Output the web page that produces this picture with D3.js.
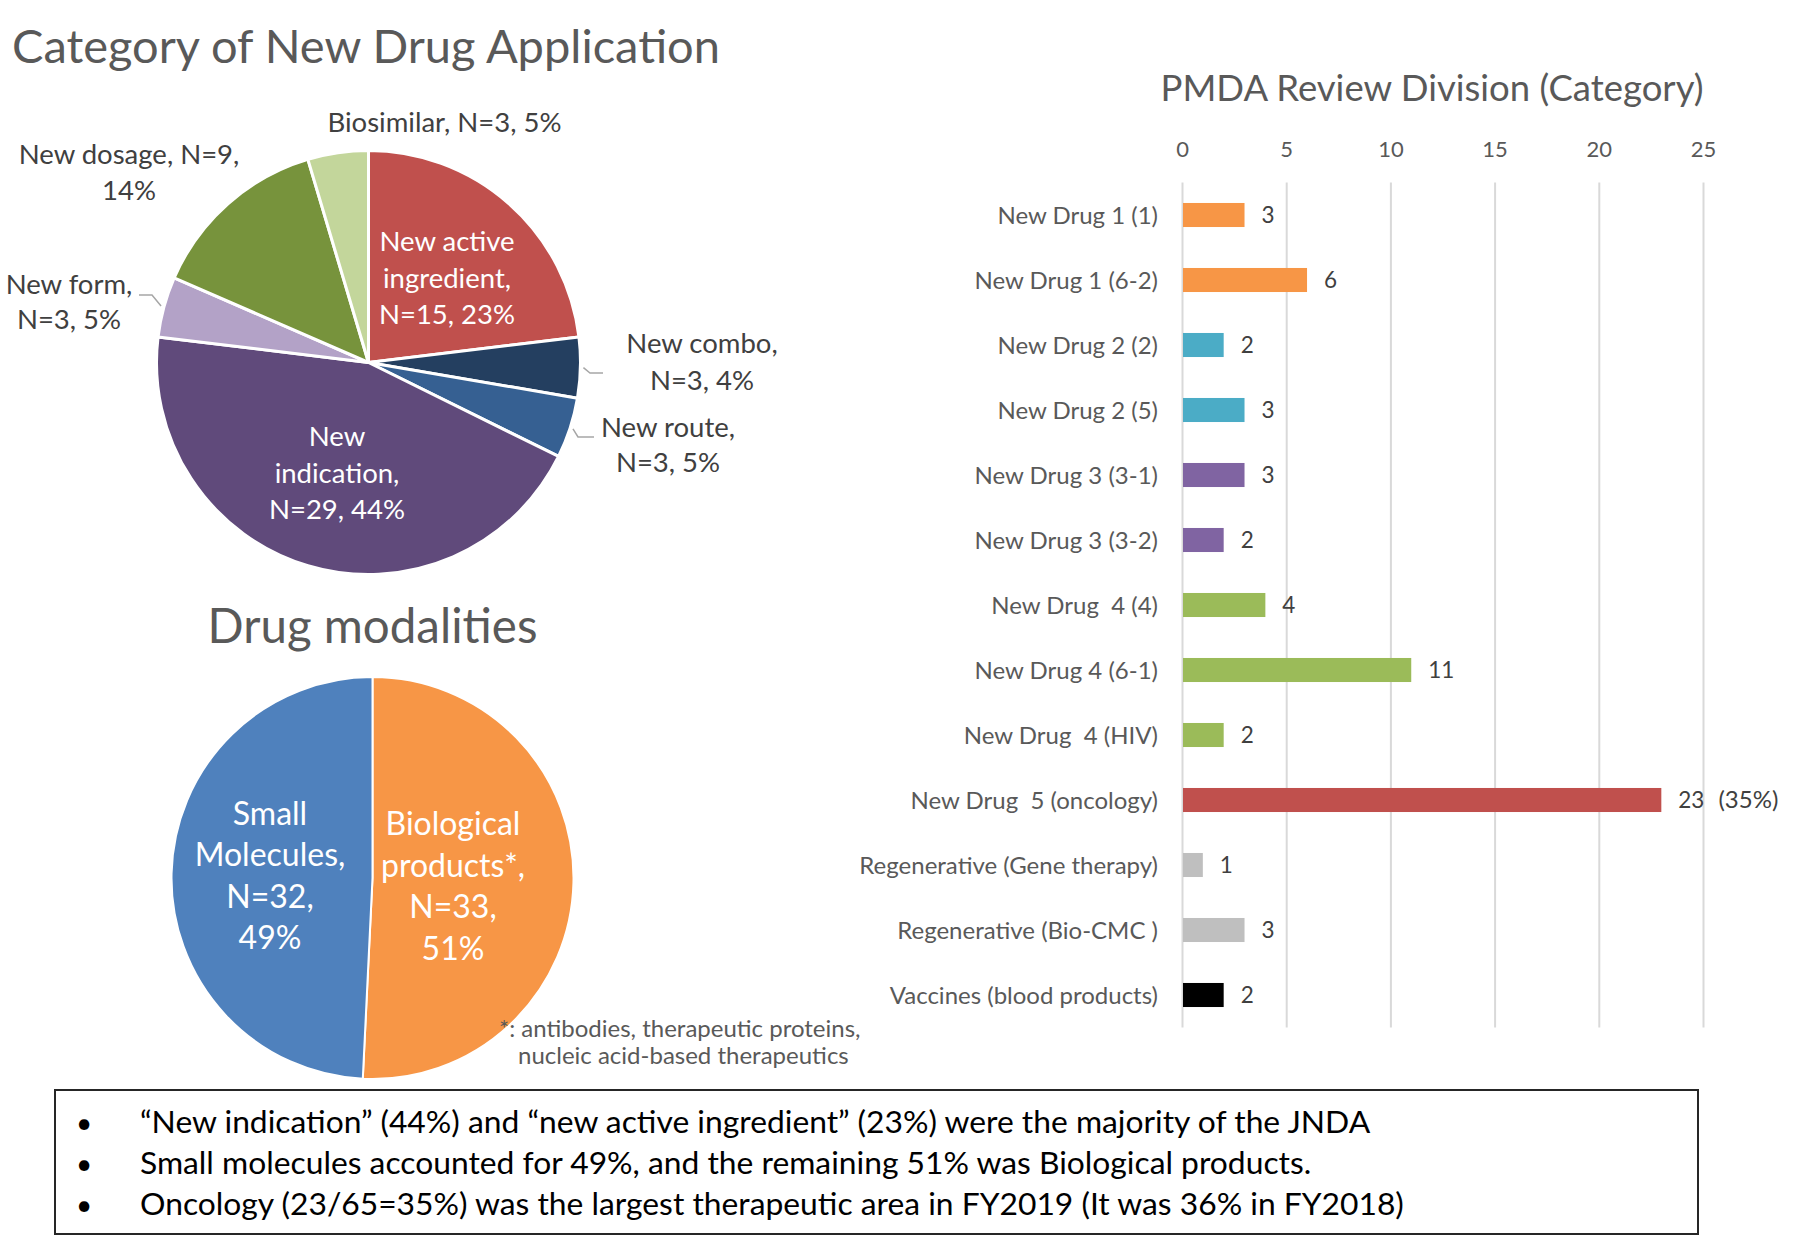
<!DOCTYPE html>
<html>
<head>
<meta charset="utf-8">
<script src="https://cdn.jsdelivr.net/npm/d3@7"></script>
<style>
  body { margin: 0; background: #fff; }
  svg text { font-family: Lato, "Open Sans", sans-serif; white-space: pre; }
</style>
</head>
<body>
<svg id="chart" width="1801" height="1236"></svg>
<script>
// --- data ---
// category of new drug application (pie, clockwise from 12 o'clock)
const appCategories = ['New active ingredient', 'New combo', 'New route', 'New indication', 'New form', 'New dosage', 'Biosimilar']
const appCounts = [15, 3, 3, 29, 3, 9, 3]
const appLabels = [
  ['New active', 'ingredient,', 'N=15, 23%'],
  ['New combo,', 'N=3, 4%'],
  ['New route,', 'N=3, 5%'],
  ['New', 'indication,', 'N=29, 44%'],
  ['New form,', 'N=3, 5%'],
  ['New dosage, N=9,', '14%'],
  ['Biosimilar, N=3, 5%']
]

// drug modalities
const modalities = ['Biological products', 'Small Molecules']
const modalityCounts = [33, 32]
const modalityLabels = [
  ['Biological', 'products*,', 'N=33,', '51%'],
  ['Small', 'Molecules,', 'N=32,', '49%']
]

// PMDA review division
const divisions = ['New Drug 1 (1)', 'New Drug 1 (6-2)', 'New Drug 2 (2)', 'New Drug 2 (5)', 'New Drug 3 (3-1)',
  'New Drug 3 (3-2)', 'New Drug  4 (4)', 'New Drug 4 (6-1)', 'New Drug  4 (HIV)', 'New Drug  5 (oncology)',
  'Regenerative (Gene therapy)', 'Regenerative (Bio-CMC )', 'Vaccines (blood products)']
const divisionCounts = [3, 6, 2, 3, 3, 2, 4, 11, 2, 23, 1, 3, 2]
const divisionNotes = ['', '', '', '', '', '', '', '', '', '(35%)', '', '', '']
const xTicks = [0, 5, 10, 15, 20, 25]

const summary = [
  '\u201CNew indication\u201D (44%) and \u201Cnew active ingredient\u201D (23%) were the majority of the JNDA',
  'Small molecules accounted for 49%, and the remaining 51% was Biological products.',
  'Oncology (23/65=35%) was the largest therapeutic area in FY2019 (It was 36% in FY2018)'
]

// --- styles ---
const appColors = ['#C0504D', '#243F60', '#366092', '#604A7B', '#B3A2C7', '#77933C', '#C3D69B']
const modalityColors = ['#F79646', '#4F81BD']
const divisionColors = ['#F79646', '#F79646', '#4BACC6', '#4BACC6', '#8064A2', '#8064A2', '#9BBB59',
  '#9BBB59', '#9BBB59', '#C0504D', '#BFBFBF', '#BFBFBF', '#000000']

const svg = d3.select('#chart')

// ===== pie 1 =====
svg.append('text')
  .attr('x', 12).attr('y', 63)
  .attr('font-size', 47).attr('fill', '#595959')
  .text('Category of New Drug Application')

const pie1 = { cx: 368.5, cy: 362.5, r: 212 }
const appArcs = d3.pie().sort(null)(appCounts)
const arc1 = d3.arc().innerRadius(0).outerRadius(pie1.r)
const leaderArc = d3.arc().innerRadius(pie1.r + 3).outerRadius(pie1.r + 3)

const g1 = svg.append('g').attr('transform', `translate(${pie1.cx},${pie1.cy})`)
g1.selectAll('path.slice')
  .data(appArcs)
  .join('path')
  .attr('class', 'slice')
  .attr('d', arc1)
  .attr('fill', (d, i) => appColors[i])
  .attr('stroke', '#fff')
  .attr('stroke-width', 3)
  .attr('stroke-linejoin', 'round')

// label placement (absolute page coords), inside labels are white
const appLabelPos = [
  { x: 447, y: 251, lh: 36.5, fill: '#fff' },
  { x: 702, y: 353, lh: 37, fill: '#404040', elbow: [590, 373], end: [603, 373] },
  { x: 668, y: 437, lh: 35, fill: '#404040', elbow: [578, 437], end: [594, 437] },
  { x: 337, y: 446, lh: 36.5, fill: '#fff' },
  { x: 69, y: 294, lh: 35, fill: '#404040', elbow: [152, 295], end: [139, 295] },
  { x: 129, y: 164, lh: 36, fill: '#404040' },
  { x: 444.5, y: 132, lh: 36, fill: '#404040' }
]

appArcs.forEach((d, i) => {
  const p = appLabelPos[i]
  if (p.elbow) {
    const [sx, sy] = leaderArc.centroid(d)
    svg.append('polyline')
      .attr('points', [[sx + pie1.cx, sy + pie1.cy], p.elbow, p.end].map(q => q.join(',')).join(' '))
      .attr('fill', 'none')
      .attr('stroke', '#A6A6A6')
      .attr('stroke-width', 1.5)
  }
  const t = svg.append('text')
    .attr('text-anchor', 'middle')
    .attr('font-size', 27.5)
    .attr('fill', p.fill)
  appLabels[i].forEach((line, k) => {
    t.append('tspan').attr('x', p.x).attr('y', p.y + k * p.lh).text(line)
  })
})

// ===== pie 2 =====
svg.append('text')
  .attr('x', 372.5).attr('y', 643)
  .attr('text-anchor', 'middle')
  .attr('font-size', 47.5).attr('fill', '#595959')
  .text('Drug modalities')

const pie2 = { cx: 372.5, cy: 878, r: 201 }
const modArcs = d3.pie().sort(null)(modalityCounts)
const arc2 = d3.arc().innerRadius(0).outerRadius(pie2.r)

svg.append('g').attr('transform', `translate(${pie2.cx},${pie2.cy})`)
  .selectAll('path')
  .data(modArcs)
  .join('path')
  .attr('d', arc2)
  .attr('fill', (d, i) => modalityColors[i])
  .attr('stroke', '#fff')
  .attr('stroke-width', 2)

const modLabelPos = [
  { x: 453, y: 835, lh: 41.7 },
  { x: 270, y: 825, lh: 41.3 }
]
modArcs.forEach((d, i) => {
  const p = modLabelPos[i]
  const t = svg.append('text')
    .attr('text-anchor', 'middle')
    .attr('font-size', 32)
    .attr('fill', '#fff')
  modalityLabels[i].forEach((line, k) => {
    t.append('tspan').attr('x', p.x).attr('y', p.y + k * p.lh).text(line)
  })
})

const foot = svg.append('text').attr('font-size', 24).attr('fill', '#595959')
foot.append('tspan').attr('x', 499).attr('y', 1037).text('*: antibodies, therapeutic proteins,')
foot.append('tspan').attr('x', 518).attr('y', 1064).text('nucleic acid-based therapeutics')

// ===== bar chart =====
svg.append('text')
  .attr('x', 1432).attr('y', 101)
  .attr('text-anchor', 'middle')
  .attr('font-size', 36.5).attr('fill', '#595959')
  .text('PMDA Review Division (Category)')

const plot = { left: 1182, right: 1703, top: 182.5, bottom: 1027.5 }
const x = d3.scaleLinear().domain([0, 25]).range([plot.left, plot.right])
const y = d3.scaleBand().domain(divisions).range([plot.top, plot.bottom]).paddingInner(0.63).paddingOuter(0.315)

const xAxis = svg.append('g')
  .attr('transform', `translate(0,${plot.top})`)
  .call(d3.axisTop(x).tickValues(xTicks).tickSize(-(plot.bottom - plot.top)).tickPadding(26))
xAxis.select('.domain').remove()
xAxis.selectAll('.tick line').attr('stroke', '#D9D9D9').attr('stroke-width', 2)
xAxis.selectAll('.tick text')
  .attr('font-family', 'Lato, sans-serif')
  .attr('font-size', 22)
  .attr('fill', '#595959')

svg.append('g')
  .selectAll('rect')
  .data(divisionCounts)
  .join('rect')
  .attr('x', x(0) + 1)
  .attr('y', (d, i) => y(divisions[i]))
  .attr('width', d => x(d) - x(0) - 1)
  .attr('height', y.bandwidth())
  .attr('fill', (d, i) => divisionColors[i])

// category labels
svg.append('g')
  .selectAll('text')
  .data(divisions)
  .join('text')
  .attr('x', plot.left - 24)
  .attr('y', d => y(d) + y.bandwidth() / 2)
  .attr('dy', '0.36em')
  .attr('text-anchor', 'end')
  .attr('font-size', 24)
  .attr('fill', '#595959')
  .text(d => d)

// value labels
const vals = svg.append('g')
  .selectAll('text')
  .data(divisionCounts)
  .join('text')
  .attr('x', d => x(d) + 17)
  .attr('y', (d, i) => y(divisions[i]) + y.bandwidth() / 2)
  .attr('dy', '0.36em')
  .attr('font-size', 22.5)
  .attr('fill', '#404040')
  .text(d => d)
vals.filter((d, i) => divisionNotes[i])
  .append('tspan')
  .attr('dx', 14)
  .attr('font-size', 24)
  .text((d) => divisionNotes[divisionCounts.indexOf(d)])

// ===== summary box =====
svg.append('rect')
  .attr('x', 55).attr('y', 1090)
  .attr('width', 1643).attr('height', 144)
  .attr('fill', 'none')
  .attr('stroke', '#262626')
  .attr('stroke-width', 2)

summary.forEach((s, i) => {
  const yy = 1133 + i * 41
  svg.append('text').attr('x', 76).attr('y', yy).attr('font-size', 28).attr('fill', '#000').text('\u2022')
  svg.append('text').attr('x', 140).attr('y', yy).attr('font-size', 31.8).attr('fill', '#000').text(s)
})
</script>
</body>
</html>
